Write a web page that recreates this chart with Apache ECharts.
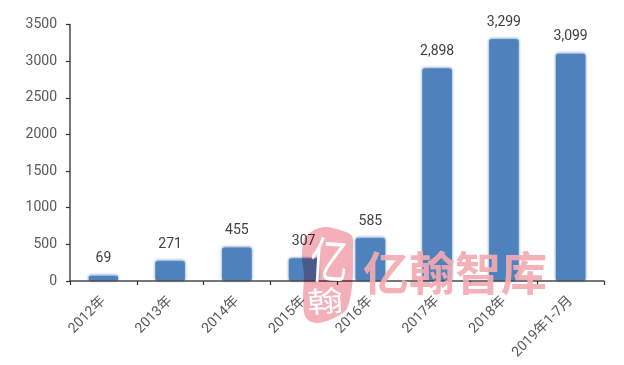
<!DOCTYPE html>
<html><head><meta charset="utf-8">
<style>html,body{margin:0;padding:0;background:#fff}#c{width:624px;height:365px}</style>
<script src="https://cdn.jsdelivr.net/npm/echarts@6/dist/echarts.min.js"></script>
</head><body><div id="c"></div>
<script>
const categories = ['2012年','2013年','2014年','2015年','2016年','2017年','2018年','2019年1-7月'];
const values = [69,271,455,307,585,2898,3299,3099];
const yTicks = {min:0,max:3500,interval:500};
const FONT = 'Roboto,"Noto Sans CJK SC",sans-serif';
const chart = echarts.init(document.getElementById('c'),null,{renderer:'canvas'});
const axisLine = {show:true,lineStyle:{color:'#4a4a4a',width:1.5}};
const pink = '#f3aab2';
chart.setOption({
  animation:false,
  backgroundColor:'#fff',
  grid:{left:70,right:20,top:24.5,bottom:84,containLabel:false},
  xAxis:{type:'category',data:categories,z:5,
    axisLine:Object.assign({onZero:true},axisLine),
    axisTick:{show:true,length:4,alignWithLabel:false,lineStyle:{color:'#333',width:1.2}},
    axisLabel:{rotate:45,interval:0,fontFamily:FONT,fontSize:14,color:'#595959',margin:18}},
  yAxis:{type:'value',min:yTicks.min,max:yTicks.max,interval:yTicks.interval,z:5,
    splitLine:{show:false},
    axisLine:axisLine,
    axisTick:{show:true,length:4,lineStyle:{color:'#333',width:1.2}},
    axisLabel:{fontFamily:FONT,fontSize:14,color:'#595959',margin:13,formatter:v=>String(v)}},
  series:[{type:'bar',data:values,barWidth:29.5,clip:false,
    itemStyle:{color:'#4f81bd',borderRadius:2,shadowColor:'#4f81bd',shadowBlur:3,shadowOffsetY:-0.6},
    label:{show:true,position:'top',distance:10,fontFamily:FONT,fontSize:14,color:'#404040',
      formatter:p=>p.value.toLocaleString('en-US')}}],
  graphic:[
    {type:'polygon',z:100,
      shape:{points:[[304,240],[314,230],[326,227],[340,230],[352,236],[353,254],[353,274],[351,294],[346,310],[332,319],[316,323],[306,318],[303,300],[304,275],[302,258]],smooth:0.3},
      style:{fill:'#f4b0b8',blend:'multiply'}},
    {type:'text',z:101,x:329,y:260,scaleY:1.3,rotation:-0.06,
      style:{text:'亿',fontFamily:'"Noto Sans CJK SC"',fontSize:38,fill:'#fff',align:'center',verticalAlign:'middle'}},
    {type:'text',z:101,x:325,y:301,scaleY:0.8,rotation:0.08,
      style:{text:'翰',fontFamily:'"Noto Sans CJK SC"',fontSize:36,fill:'#fff',align:'center',verticalAlign:'middle'}},
    {type:'text',z:100,x:455,y:273,
      style:{text:'亿翰智库',fontFamily:'"Noto Sans CJK SC"',fontWeight:'bold',fontSize:46,fill:pink,opacity:0.92,align:'center',verticalAlign:'middle'}}
  ]
});
</script></body></html>
